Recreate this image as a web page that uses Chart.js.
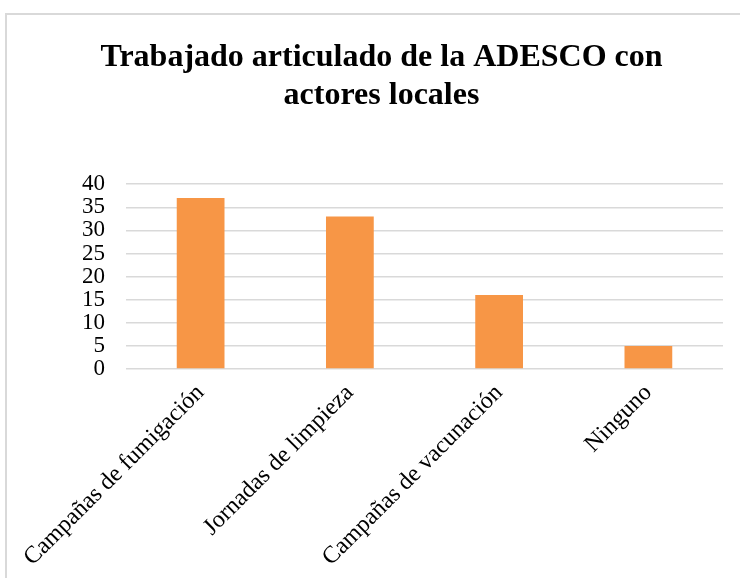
<!DOCTYPE html>
<html>
<head>
<meta charset="utf-8">
<script src="https://cdn.jsdelivr.net/npm/chart.js@4/dist/chart.umd.min.js"></script>
<style>
  html, body { margin: 0; padding: 0; background: #fff; overflow: hidden; }
  #frame {
    position: absolute; left: 5px; top: 13px; width: 800px; height: 700px;
    border: 2px solid #d9d9d9;
  }
  #wrap { position: absolute; left: 0; top: 0; width: 740px; height: 578px; }
</style>
</head>
<body>
<div id="frame"></div>
<div id="wrap"><canvas id="chartjs-0" width="740" height="578"></canvas></div>
<script>
// data
var categories = ["Campañas de fumigación", "Jornadas de limpieza", "Campañas de vacunación", "Ninguno"];
var values = [37, 33, 16, 5];
var yTicks = [0, 5, 10, 15, 20, 25, 30, 35, 40];
var chartTitle = ["Trabajado articulado de la ADESCO con", "actores locales"];

var serif = "'Liberation Serif', 'Times New Roman', serif";

var ctx = document.getElementById("chartjs-0");
var myChart = new Chart(ctx, {
    type: "bar",
    data: {
        labels: categories,
        datasets: [{
            data: values,
            backgroundColor: "#F79646",
            borderWidth: 0,
            categoryPercentage: 1,
            barPercentage: 0.32
        }]
    },
    options: {
        responsive: false,
        animation: false,
        layout: { padding: { left: 40, right: 17, top: 0, bottom: 0 } },
        plugins: {
            legend: { display: false },
            tooltip: { enabled: false },
            title: {
                display: true,
                text: chartTitle,
                color: "#000",
                font: { family: serif, size: 32, weight: "bold", lineHeight: 1.19 },
                padding: { top: 39, bottom: 69 }
            }
        },
        scales: {
            y: {
                min: 0,
                max: 40,
                afterBuildTicks: function (scale) {
                    scale.ticks = yTicks.map(function (v) { return { value: v }; });
                },
                afterFit: function (scale) { scale.width = 86; },
                border: { display: false },
                grid: { color: "#d9d9d9", lineWidth: 1.5, drawTicks: false },
                ticks: {
                    color: "#000",
                    autoSkip: false,
                    padding: 21,
                    font: { family: serif, size: 23 }
                }
            },
            x: {
                afterFit: function (scale) { scale.height = 209; },
                border: { display: false },
                grid: { display: false, drawTicks: false },
                ticks: {
                    color: "#000",
                    autoSkip: false,
                    minRotation: 45,
                    maxRotation: 45,
                    padding: 10,
                    font: { family: serif, size: 24 }
                }
            }
        }
    }
});
</script>
</body>
</html>
